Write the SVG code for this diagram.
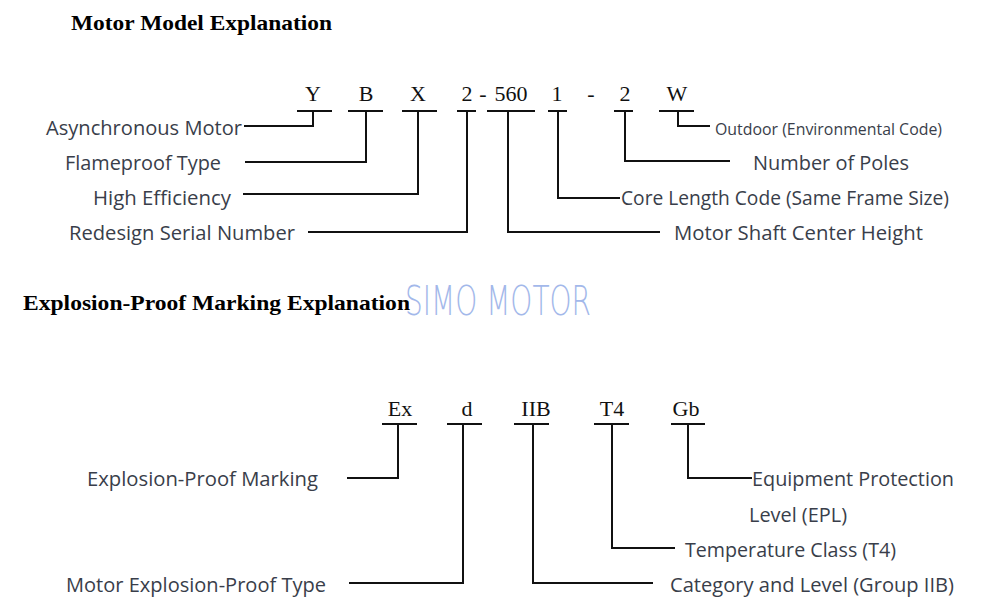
<svg xmlns="http://www.w3.org/2000/svg" width="1000" height="606" viewBox="0 0 1000 606">
<style>
.title{font-family:"Liberation Serif","Times New Roman",serif;font-weight:bold;font-size:22px;fill:#000}
.code{font-family:"Liberation Serif","Times New Roman",serif;font-size:22px;fill:#111;text-anchor:middle}
.lbl{font-family:"Open Sans","Noto Sans","DejaVu Sans",sans-serif;font-size:20px;fill:#393e4a}
.sm{font-size:15.5px}
.wm{font-family:"DejaVu Sans","Liberation Sans",sans-serif;font-weight:200;font-size:40px;fill:#a3b8ea}
.ln{fill:none;stroke:#111;stroke-width:2}
</style>
<rect width="1000" height="606" fill="#fff"/>
<text class="title" x="71" y="30" textLength="261" lengthAdjust="spacingAndGlyphs">Motor Model Explanation</text>
<text class="title" x="23" y="310" textLength="387" lengthAdjust="spacingAndGlyphs">Explosion-Proof Marking Explanation</text>
<text class="wm" x="405" y="315" textLength="186" lengthAdjust="spacingAndGlyphs">SIMO MOTOR</text>

<g id="code-top">
<text class="code" x="313" y="101">Y</text>
<text class="code" x="366" y="101">B</text>
<text class="code" x="418" y="101">X</text>
<text class="code" x="467" y="101">2</text>
<text class="code" x="483" y="101">-</text>
<text class="code" x="511" y="101">560</text>
<text class="code" x="557" y="101">1</text>
<text class="code" x="591" y="101">-</text>
<text class="code" x="625" y="101">2</text>
<text class="code" x="677" y="101">W</text>
</g>

<g id="code-bottom">
<text class="code" x="400" y="416">Ex</text>
<text class="code" x="467" y="416">d</text>
<text class="code" x="536" y="416">IIB</text>
<text class="code" x="612" y="416">T4</text>
<text class="code" x="686" y="416">Gb</text>
</g>

<g id="n-async"><text class="lbl" x="46" y="135" textLength="196" lengthAdjust="spacingAndGlyphs">Asynchronous Motor</text></g>
<g id="n-flame"><text class="lbl" x="65" y="170" textLength="156" lengthAdjust="spacingAndGlyphs">Flameproof Type</text></g>
<g id="n-higheff"><text class="lbl" x="93" y="205" textLength="138" lengthAdjust="spacingAndGlyphs">High Efficiency</text></g>
<g id="n-redesign"><text class="lbl" x="69" y="240" textLength="226" lengthAdjust="spacingAndGlyphs">Redesign Serial Number</text></g>
<g id="n-outdoor"><text class="lbl sm" x="715" y="135" textLength="227" lengthAdjust="spacingAndGlyphs">Outdoor (Environmental Code)</text></g>
<g id="n-poles"><text class="lbl" x="753" y="170" textLength="156" lengthAdjust="spacingAndGlyphs">Number of Poles</text></g>
<g id="n-core"><text class="lbl" x="621" y="205" textLength="328" lengthAdjust="spacingAndGlyphs">Core Length Code (Same Frame Size)</text></g>
<g id="n-shaft"><text class="lbl" x="674" y="240" textLength="249" lengthAdjust="spacingAndGlyphs">Motor Shaft Center Height</text></g>
<g id="n-exmark"><text class="lbl" x="87" y="486" textLength="231" lengthAdjust="spacingAndGlyphs">Explosion-Proof Marking</text></g>
<g id="n-extype"><text class="lbl" x="66" y="592" textLength="260" lengthAdjust="spacingAndGlyphs">Motor Explosion-Proof Type</text></g>
<g id="n-epl">
<text class="lbl" x="752" y="486" textLength="202" lengthAdjust="spacingAndGlyphs">Equipment Protection</text>
<text class="lbl" x="749" y="522" textLength="98" lengthAdjust="spacingAndGlyphs">Level (EPL)</text>
</g>
<g id="n-temp"><text class="lbl" x="685" y="557" textLength="211" lengthAdjust="spacingAndGlyphs">Temperature Class (T4)</text></g>
<g id="n-cat"><text class="lbl" x="670" y="592" textLength="284" lengthAdjust="spacingAndGlyphs">Category and Level (Group IIB)</text></g>

<g id="connectors" class="ln">
<path class="ln" d="M297,111H332M313,111V126H244"/>
<path class="ln" d="M348,111H383M366,111V162H245"/>
<path class="ln" d="M402,111H437M418,111V194H243"/>
<path class="ln" d="M457,111H476M467,111V232H308"/>
<path class="ln" d="M487,111H535M508,111V232H660"/>
<path class="ln" d="M548,111H567M558,111V198H620"/>
<path class="ln" d="M614,111H633M625,111V161H730"/>
<path class="ln" d="M659,111H694M678,111V126H710"/>
<path class="ln" d="M382,424H417M398,424V478H347"/>
<path class="ln" d="M447,424H482M463,424V583H349"/>
<path class="ln" d="M514,424H549M533,424V583H653"/>
<path class="ln" d="M594,424H629M612,424V548H675"/>
<path class="ln" d="M671,424H705M688,424V478H752"/>
</g>
</svg>
